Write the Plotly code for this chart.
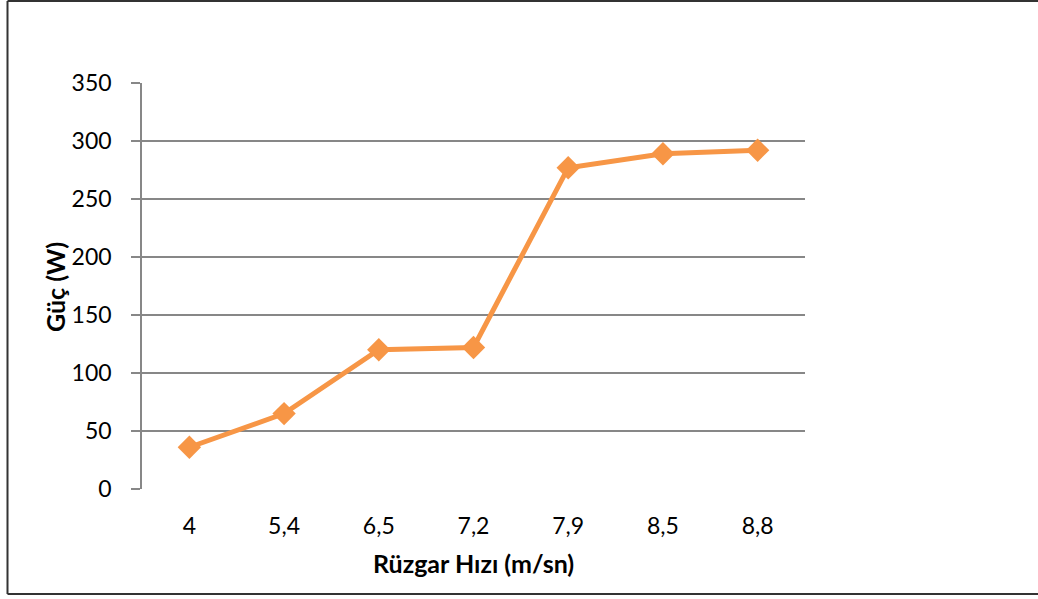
import plotly.graph_objects as go

categories = ["4", "5,4", "6,5", "7,2", "7,9", "8,5", "8,8"]
power_w = [36, 65, 120, 122, 277, 289, 292]
y_ticks = [0, 50, 100, 150, 200, 250, 300, 350]

W, H = 1038, 599
L, R, T, B = 142, 805, 83, 489
pw, ph = R - L, B - T

def px(x):
    return (x - L) / pw

def py(y):
    return (B - y) / ph

fig = go.Figure()
fig.add_trace(go.Scatter(
    x=categories, y=power_w, mode="lines+markers",
    line=dict(color="#F79646", width=5),
    marker=dict(symbol="diamond", size=18, color="#F79646"),
    cliponaxis=False, showlegend=False,
))

font_family = "Lato, 'Open Sans', sans-serif"
grid = "#878787"

fig.update_layout(
    width=W, height=H,
    margin=dict(l=L, r=W - R, t=T, b=H - B, pad=0),
    paper_bgcolor="white", plot_bgcolor="white",
    font=dict(family=font_family, size=23, color="black"),
    xaxis=dict(
        type="category", range=[-0.5, len(categories) - 0.5],
        showgrid=False, zeroline=False,
        showline=False, ticks="", ticklabelstandoff=21,
        tickfont=dict(size=23),
    ),
    yaxis=dict(
        range=[0, 350], tickvals=y_ticks, showgrid=True, gridcolor=grid,
        gridwidth=1.5, zeroline=False, showline=True, linecolor=grid, linewidth=1.5,
        ticks="outside", ticklen=9, tickcolor=grid, tickwidth=1.5,
        ticklabelstandoff=15, tickfont=dict(size=23),
    ),
    annotations=[
        dict(text="<b>Rüzgar Hızı (m/sn)</b>", x=px(473), y=py(563), xref="paper", yref="paper",
             showarrow=False, font=dict(size=25, family=font_family), xanchor="center", yanchor="middle"),
        dict(text="<b>Güç (W)</b>", x=px(55), y=py(287), xref="paper", yref="paper",
             showarrow=False, textangle=-90, font=dict(size=25, family=font_family),
             xanchor="center", yanchor="middle"),
    ],
    shapes=[
        dict(type="line", xref="paper", yref="paper", x0=px(7.5), x1=px(1040), y0=py(1), y1=py(1),
             line=dict(color="#333333", width=2)),
        dict(type="line", xref="paper", yref="paper", x0=px(7.5), x1=px(7.5), y0=py(1), y1=py(594),
             line=dict(color="#333333", width=2)),
        dict(type="line", xref="paper", yref="paper", x0=px(7.5), x1=px(1040), y0=py(594), y1=py(594),
             line=dict(color="#333333", width=2)),
    ],
)

fig.write_html("out.html")
